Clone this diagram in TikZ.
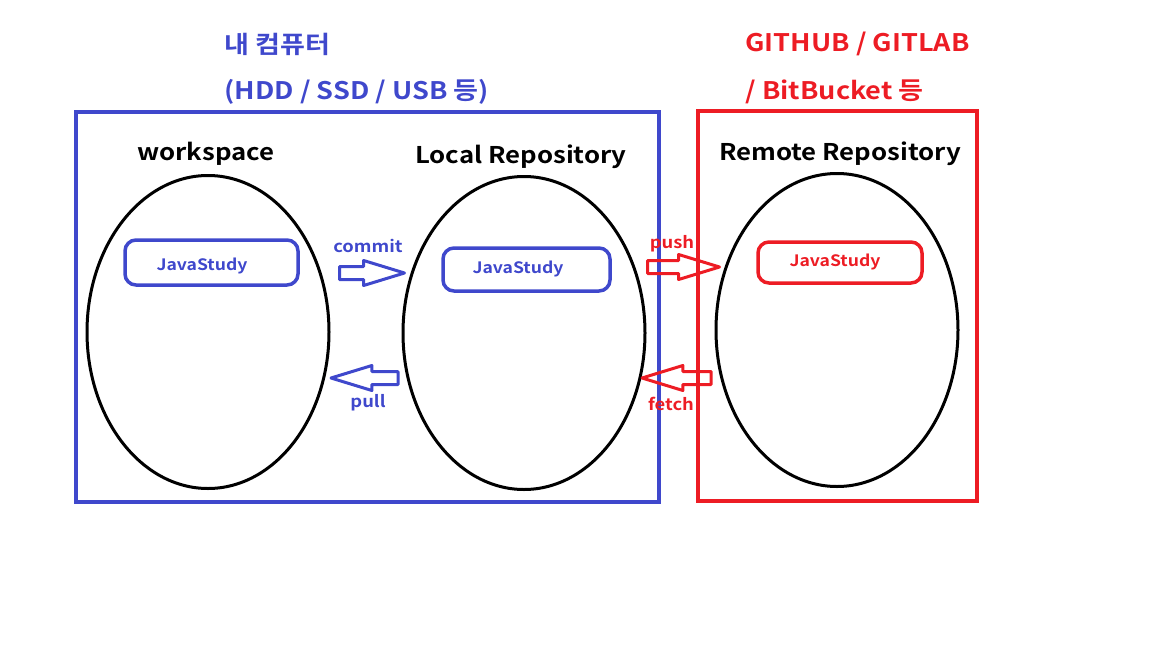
\documentclass[tikz,border=0pt]{standalone}
\usepackage{fontspec}
\setmainfont{Noto Sans CJK KR}[UprightFont=* Bold, FakeStretch=1.12]
\usetikzlibrary{shapes.arrows, shapes.geometric}

\definecolor{pcblue}{RGB}{63,72,204}
\definecolor{pcred}{RGB}{237,28,36}

\tikzset{
	repo/.style={draw=black, line width=3pt, ellipse, minimum width=242pt, minimum height=313pt},
	folder/.style={draw, line width=3.5pt, rounded corners=11pt},
	foldertext/.style={font=\fontsize{15.7}{18}\selectfont},
	title/.style={font=\fontsize{23}{26}\selectfont},
	head/.style={anchor=west, font=\fontsize{24.2}{28}\selectfont},
	blockarrow/.style={single arrow, draw, line width=3pt, line join=round, inner sep=5pt,
		anchor=tail, single arrow head extend=6pt, single arrow tip angle=34},
	arrlabel/.style={font=\fontsize{16.4}{18}\selectfont}
}

\begin{document}
\begin{tikzpicture}[x=1pt, y=-1pt]
	\useasboundingbox (0,0) rectangle (1152,648);

	% storage boxes
	\draw[pcblue, line width=4pt] (76,112) rectangle (659,502);
	\draw[pcred, line width=4pt] (698,111) rectangle (977,501);

	\node[head, pcblue] (mypc) at (221,44) {내 컴퓨터};
	\node[head, pcblue] (mydisk) at (221,92) {(HDD / SSD / USB 등)};
	\node[head, pcred] (hosts) at (742,44) {GITHUB / GITLAB};
	\node[head, pcred] (hosts2) at (742,92) {/ BitBucket 등};

	% repositories
	\node[repo] (work) at (208,332) {};
	\node[repo] (local) at (524,333) {};
	\node[repo] (remote) at (837,330) {};

	\node[title] (worklbl) at (206,154) {workspace};
	\node[title] (locallbl) at (521,157) {Local Repository};
	\node[title] (remotelbl) at (840,154) {Remote Repository};

	\node[folder, pcblue, minimum width=173pt, minimum height=45pt] (workdir) at (211.5,262.5) {};
	\node[foldertext, pcblue] at (202,266) {JavaStudy};
	\node[folder, pcblue, minimum width=167pt, minimum height=43pt] (localdir) at (526.5,269.5) {};
	\node[foldertext, pcblue] at (518,269) {JavaStudy};
	\node[folder, pcred, minimum width=164pt, minimum height=41pt] (remotedir) at (840,262.5) {};
	\node[foldertext, pcred] at (835,262) {JavaStudy};

	% git commands
	\node[blockarrow, pcblue, minimum height=65pt] (commit) at (338,273) {};
	\node[arrlabel, pcblue] at (368,246) {commit};
	\node[blockarrow, pcblue, minimum height=67pt, shape border rotate=180] (pull) at (399.5,378) {};
	\node[arrlabel, pcblue] at (368,403) {pull};
	\node[blockarrow, pcred, minimum height=72pt] (push) at (646,267) {};
	\node[arrlabel, pcred] at (672,244) {push};
	\node[blockarrow, pcred, minimum height=69pt, shape border rotate=180] (fetch) at (712.5,378) {};
	\node[arrlabel, pcred] at (671,404) {fetch};

\end{tikzpicture}
\end{document}
